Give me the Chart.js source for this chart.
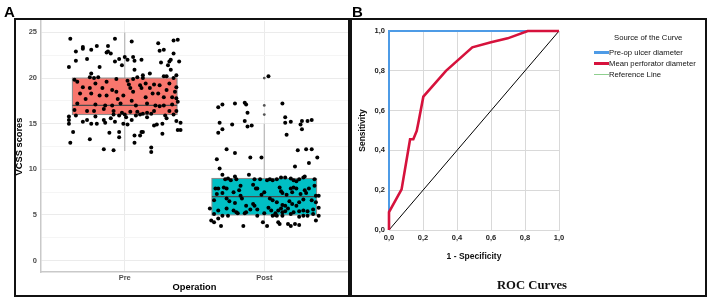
<!DOCTYPE html>
<html>
<head>
<meta charset="utf-8">
<script src="https://cdn.jsdelivr.net/npm/chart.js@4.4.1/dist/chart.umd.min.js"></script>
<style>
  body { margin: 0; width: 711px; height: 301px; background: #fff; position: relative; overflow: hidden; font-family: 'Liberation Sans', Arial, sans-serif; }
  canvas { position: absolute; }
  .frame { position: absolute; border: 2px solid #111; box-sizing: border-box; }
  .tag { position: absolute; font: bold 15px 'Liberation Sans', Arial, sans-serif; line-height: 15px; color: #000; }
  .leg { position: absolute; font-size: 7.7px; line-height: 9px; color: #111; white-space: nowrap; }
  .leg i { position: absolute; left: -15px; width: 15px; }
</style>
</head>
<body>

<canvas id="chartA" width="352" height="301" style="left:0;top:0"></canvas>
<canvas id="chartB" width="353" height="275" style="left:352px;top:20px"></canvas>

<div class="frame" style="left:14px;top:18px;width:336px;height:279px"></div>
<div class="frame" style="left:350px;top:18px;width:357px;height:279px"></div>
<div class="tag" style="left:4px;top:4px">A</div>
<div class="tag" style="left:352px;top:4px">B</div>

<div class="leg" style="left:614px;top:33px">Source of the Curve</div>
<div class="leg" style="left:609px;top:48px"><i style="top:3px;height:3px;background:#4e9be6"></i>Pre-op ulcer diameter</div>
<div class="leg" style="left:609px;top:59px"><i style="top:3px;height:3px;background:#d6123c"></i>Mean perforator diameter</div>
<div class="leg" style="left:609px;top:70px"><i style="top:4px;height:1px;background:#8fcf8f"></i>Reference Line</div>
<div style="position:absolute;left:432px;top:278px;width:200px;text-align:center;font:bold 12.7px 'Liberation Serif', 'Times New Roman', serif;color:#111">ROC Curves</div>

<script>
// ---- panel A: VCSS scores by operation ----
const groups = ['Pre', 'Post'];
const boxLow = [12, 4];
const boxQ1 = [16, 5];
const boxMedian = [17, 7];
const boxQ3 = [20, 9];
const boxHigh = [25, 15];
const boxFill = ['#F8766D', '#00BFC4'];
const yTicksA = [0, 2.5, 5, 7.5, 10, 12.5, 15, 17.5, 20, 22.5, 25];

// [jitter offset, score]
const prePoints = [
  [-0.39,24.3],[-0.35,22.9],[-0.30,23.4],[-0.30,23.2],[-0.24,23.1],[-0.20,23.5],[-0.12,23.5],[-0.13,22.8],
  [-0.12,22.9],[-0.10,22.7],[-0.07,24.3],[0.05,24.0],[0.24,23.8],[0.25,23.0],[0.28,23.1],[0.35,24.1],
  [0.38,24.2],[0.35,22.7],[-0.35,21.9],[-0.40,21.2],[-0.27,22.1],[-0.18,21.2],[-0.24,20.5],[-0.07,21.8],
  [-0.04,22.1],[-0.02,21.4],[0.00,22.3],[0.02,22.0],[0.06,22.3],[0.07,21.9],[0.12,22.0],[0.07,20.9],
  [0.26,21.7],[0.32,21.8],[0.33,22.0],[0.31,21.4],[0.39,21.8],[0.33,20.9],[0.13,20.3],[0.18,20.5],
  [-0.25,20.1],[-0.22,20.0],[-0.19,20.1],[0.09,20.1],[0.13,20.0],[0.28,20.2],[0.30,20.2],[0.37,20.3],
  [-0.36,19.8],[-0.34,19.6],[-0.30,19.0],[-0.25,18.9],[-0.21,19.4],[-0.13,19.6],[-0.06,19.9],[-0.09,18.7],
  [-0.16,18.9],[0.02,19.7],[0.06,19.9],[0.03,19.3],[0.04,18.9],[0.11,19.2],[0.15,19.4],[0.12,18.9],
  [0.18,18.9],[0.21,19.3],[0.25,19.2],[0.32,19.4],[0.35,20.0],[0.37,19.0],[0.30,18.7],
  [-0.32,18.3],[-0.28,17.7],[-0.24,18.3],[-0.18,18.1],[-0.13,18.1],[-0.05,17.7],[-0.01,18.1],[0.06,18.5],
  [0.15,17.9],[0.20,18.3],[0.24,18.3],[0.28,17.9],[0.34,17.9],[0.37,17.8],[0.36,18.5],[-0.06,18.5],
  [-0.34,17.2],[-0.21,17.1],[-0.14,17.0],[-0.09,17.0],[-0.03,17.2],[0.05,17.5],[0.08,17.0],[0.16,17.2],
  [0.22,17.0],[0.25,16.9],[0.28,17.0],[0.34,17.1],[0.38,17.4],[-0.36,16.5],[-0.27,16.4],[-0.22,16.4],
  [-0.15,16.6],[-0.08,16.4],[0.04,16.3],[0.09,16.3],[0.16,16.2],[0.21,16.4],[0.32,16.4],[0.37,16.4],
  [-0.40,15.8],[-0.40,15.4],[-0.40,15.0],[-0.35,15.9],[-0.30,15.2],[-0.27,15.4],[-0.24,15.0],[-0.21,15.8],
  [-0.20,15.0],[-0.15,15.4],[-0.14,15.1],[-0.10,15.6],[-0.08,16.0],[-0.07,15.2],[-0.04,15.9],[-0.02,16.2],
  [0.00,16.0],[0.01,15.7],[-0.01,15.0],[0.02,14.9],[0.05,15.4],[0.08,15.9],[0.11,16.0],[0.13,16.1],
  [0.16,15.7],[0.19,16.1],[0.21,14.8],[0.23,14.9],[0.27,15.0],[0.29,15.9],[0.30,15.6],[0.37,15.3],
  [0.40,15.1],[0.35,16.0],[-0.37,14.1],[-0.39,12.9],[-0.25,13.3],[-0.11,14.0],[-0.04,14.1],[-0.04,13.5],
  [0.07,13.7],[0.12,14.1],[0.13,14.1],[0.11,13.7],[0.07,12.9],[0.27,13.9],[0.38,14.3],[0.40,14.3],
  [-0.15,12.2],[-0.08,12.1],[0.19,12.4],[0.19,11.9]
];

const postPoints = [
  [0.03,20.2],
  [-0.33,16.8],[-0.30,17.1],[-0.21,17.2],[-0.14,17.3],[-0.13,17.1],[0.13,17.2],[-0.12,16.2],[0.15,15.7],
  [-0.32,15.1],[-0.23,14.9],[-0.14,15.3],[-0.12,14.7],[-0.09,14.8],[-0.30,14.4],[-0.33,14.0],[0.15,15.1],
  [0.19,15.2],[0.27,15.3],[0.31,15.3],[0.34,15.4],[0.26,14.9],[0.27,14.4],[0.16,13.8],[-0.27,12.2],
  [-0.21,11.8],[-0.10,11.3],[-0.02,11.3],[0.24,12.1],[0.30,12.2],[0.34,12.2],[0.38,11.3],
  [-0.34,11.1],[-0.32,10.1],[0.32,10.7],[0.22,10.3],
  [-0.30,9.4],[-0.28,8.9],[-0.26,9.0],[-0.24,8.8],[-0.21,9.2],[-0.20,8.9],[-0.11,9.4],[-0.07,8.9],
  [-0.03,8.9],[0.02,8.8],[0.04,8.9],[0.06,8.8],[0.09,8.9],[0.12,9.1],[0.15,9.1],[0.19,9.0],
  [0.21,8.8],[0.23,8.7],[0.25,8.9],[0.28,9.1],[0.29,9.2],[0.36,8.9],
  [-0.35,7.9],[-0.33,7.9],[-0.29,8.0],[-0.27,7.9],[-0.17,8.2],[-0.08,8.3],[-0.06,7.9],[-0.05,7.9],
  [0.11,8.0],[0.12,7.6],[0.19,7.9],[0.21,8.0],[0.23,7.9],[0.29,7.7],[0.32,7.9],[0.36,8.2],
  [-0.34,7.3],[-0.30,7.4],[-0.22,7.5],[-0.18,7.7],[-0.17,7.1],[0.00,7.5],[-0.02,7.2],[0.13,7.4],
  [0.16,7.2],[0.20,7.5],[0.26,7.3],[0.30,7.4],[0.37,7.1],[0.39,7.1],
  [-0.36,6.6],[-0.27,6.8],[-0.25,6.5],[-0.21,6.3],[-0.16,6.8],[-0.13,6.0],[-0.08,6.2],[-0.07,6.0],
  [0.04,6.8],[0.06,6.6],[0.09,6.4],[0.13,6.1],[0.15,6.0],[0.18,6.5],[0.20,6.2],[0.23,6.0],
  [0.25,6.4],[0.28,6.7],[0.34,6.6],[0.37,6.4],[0.39,5.8],
  [-0.39,5.7],[-0.33,5.5],[-0.27,5.7],[-0.22,5.5],[-0.20,5.3],[-0.10,5.6],[-0.05,5.6],[0.03,5.8],
  [0.05,5.5],[0.08,5.2],[0.10,5.5],[0.12,5.7],[0.15,5.4],[0.17,5.7],[0.21,5.3],[0.25,5.4],
  [0.28,5.5],[0.31,5.4],[0.35,5.6],
  [-0.36,5.1],[-0.30,4.9],[-0.26,4.9],[-0.19,5.2],[-0.14,5.2],[-0.13,5.3],[-0.05,4.9],[0.00,5.2],
  [0.06,4.9],[0.08,5.0],[0.09,4.9],[0.13,4.9],[0.13,5.3],[0.19,5.1],[0.25,4.8],[0.28,4.9],
  [0.31,4.9],[0.35,5.1],[0.39,4.9],
  [-0.38,4.4],[-0.36,4.2],[-0.33,4.6],[-0.31,3.8],[-0.15,3.8],[-0.01,4.2],[0.02,3.8],[0.10,4.2],
  [0.11,4.0],[0.17,4.0],[0.19,3.8],[0.22,4.0],[0.25,3.9],[0.37,4.4]
];
const postOutliers = [16, 17, 20];

// ---- panel B: ROC curves ----
const rocTicks = [0, 0.2, 0.4, 0.6, 0.8, 1];
const perfFpr = [0, 0, 0.074, 0.124, 0.143, 0.163, 0.173, 0.202, 0.335, 0.49, 0.6, 0.698, 0.816, 1];
const perfTpr = [0, 0.09, 0.204, 0.456, 0.456, 0.498, 0.54, 0.67, 0.80, 0.918, 0.943, 0.963, 1, 1];
const ulcerFpr = [0, 0, 1];
const ulcerTpr = [0, 1, 1];
const refFpr = [0, 1];
const refTpr = [0, 1];

const sans = "'Liberation Sans', Arial, sans-serif";

// box + whiskers under the jittered points
const boxPlugin = {
  id: 'boxes',
  beforeDatasetsDraw(chart) {
    const { ctx, scales: { x, y } } = chart;
    groups.forEach((g, i) => {
      const c = x.getPixelForValue(i + 1);
      const l = x.getPixelForValue(i + 1 - 0.375);
      const r = x.getPixelForValue(i + 1 + 0.375);
      const top = y.getPixelForValue(boxQ3[i]);
      const bot = y.getPixelForValue(boxQ1[i]);
      const med = y.getPixelForValue(boxMedian[i]);
      ctx.save();
      ctx.strokeStyle = '#b8b8b8';
      ctx.lineWidth = 1.2;
      ctx.beginPath();
      ctx.moveTo(c, y.getPixelForValue(boxHigh[i])); ctx.lineTo(c, top);
      ctx.moveTo(c, bot); ctx.lineTo(c, y.getPixelForValue(boxLow[i]));
      ctx.stroke();
      ctx.fillStyle = boxFill[i];
      ctx.fillRect(l, top, r - l, bot - top);
      ctx.strokeStyle = '#8a8a8a';
      ctx.lineWidth = 1;
      ctx.strokeRect(l, top, r - l, bot - top);
      ctx.strokeStyle = '#4a4a4a';
      ctx.lineWidth = 1.2;
      ctx.beginPath();
      ctx.moveTo(l, med); ctx.lineTo(r, med);
      ctx.stroke();
      ctx.restore();
    });
  }
};

new Chart(document.getElementById('chartA'), {
  type: 'scatter',
  data: {
    datasets: [
      { data: prePoints.map(p => ({ x: 1 + p[0], y: p[1] })), backgroundColor: '#000', pointRadius: 2, pointBorderWidth: 0 },
      { data: postPoints.map(p => ({ x: 2 + p[0], y: p[1] })), backgroundColor: '#000', pointRadius: 2, pointBorderWidth: 0 },
      { data: postOutliers.map(v => ({ x: 2, y: v })), backgroundColor: '#555', pointRadius: 1.4, pointBorderWidth: 0 }
    ]
  },
  options: {
    responsive: false,
    animation: false,
    layout: { padding: { top: 21, left: 0, right: 0, bottom: 0 } },
    plugins: { legend: { display: false }, tooltip: { enabled: false } },
    scales: {
      x: {
        type: 'linear', min: 0.4, max: 2.6,
        afterBuildTicks: s => { s.ticks = groups.map((g, i) => ({ value: i + 1 })); },
        afterFit: s => { s.height = 29; },
        ticks: { callback: v => groups[v - 1], color: '#4d4d4d', font: { family: sans, size: 7.5, weight: 'bold' }, padding: 1 },
        grid: { color: '#ebebeb', drawTicks: false },
        border: { color: '#c9c9c9', width: 1.5 },
        title: { display: true, text: 'Operation', color: '#000', font: { family: sans, size: 9.3, weight: 'bold' }, padding: { top: 0, bottom: 8 } }
      },
      y: {
        min: -1.25, max: 26.25,
        afterBuildTicks: s => { s.ticks = yTicksA.map(v => ({ value: v })); },
        afterFit: s => { s.width = 41; },
        ticks: { callback: v => (v % 5 === 0 ? v : ''), color: '#4d4d4d', font: { family: sans, size: 7.5, weight: 'bold' }, padding: 4 },
        grid: { color: c => (c.tick.value % 5 === 0 ? '#ebebeb' : '#f5f5f5'), drawTicks: false },
        border: { color: '#c9c9c9', width: 1.5 },
        title: { display: true, text: 'VCSS scores', color: '#000', font: { family: sans, size: 9.3, weight: 'bold' }, padding: { top: 14, bottom: 0 } }
      }
    }
  },
  plugins: [boxPlugin]
});

const toXY = (xs, ys) => xs.map((v, i) => ({ x: v, y: ys[i] }));

new Chart(document.getElementById('chartB'), {
  type: 'scatter',
  data: {
    datasets: [
      { label: 'Mean perforator diameter', data: toXY(perfFpr, perfTpr), showLine: true, borderColor: '#d6123c', borderWidth: 2.6, pointRadius: 0, clip: false },
      { label: 'Pre-op ulcer diameter', data: toXY(ulcerFpr, ulcerTpr), showLine: true, borderColor: '#4e9be6', borderWidth: 2, pointRadius: 0, clip: false },
      { label: 'Reference Line', data: toXY(refFpr, refTpr), showLine: true, borderColor: '#000', borderWidth: 1, pointRadius: 0, clip: false }
    ]
  },
  options: {
    responsive: false,
    animation: false,
    layout: { padding: { top: 11, left: 0, right: 146, bottom: 0 } },
    plugins: { legend: { display: false }, tooltip: { enabled: false } },
    scales: {
      x: {
        type: 'linear', min: 0, max: 1,
        afterBuildTicks: s => { s.ticks = rocTicks.map(v => ({ value: v })); },
        afterFit: s => { s.height = 65; },
        ticks: { callback: v => v.toFixed(1).replace('.', ','), color: '#222', font: { family: sans, size: 7.5, weight: 'bold' }, padding: 3.5 },
        grid: { color: '#d9d9d9', drawTicks: false },
        border: { color: '#d9d9d9' },
        title: { display: true, text: '1 - Specificity', color: '#111', font: { family: sans, size: 8.5, weight: 'bold' }, padding: { top: 0, bottom: 33 } }
      },
      y: {
        min: 0, max: 1,
        afterBuildTicks: s => { s.ticks = rocTicks.map(v => ({ value: v })); },
        afterFit: s => { s.width = 37; },
        ticks: { callback: v => v.toFixed(1).replace('.', ','), color: '#222', font: { family: sans, size: 7.5, weight: 'bold' }, padding: 4 },
        grid: { color: '#d9d9d9', drawTicks: false },
        border: { color: '#d9d9d9' },
        title: { display: true, text: 'Sensitivity', color: '#111', font: { family: sans, size: 8.5, weight: 'bold' }, padding: { top: 6, bottom: 0 } }
      }
    }
  }
});
</script>
</body>
</html>
